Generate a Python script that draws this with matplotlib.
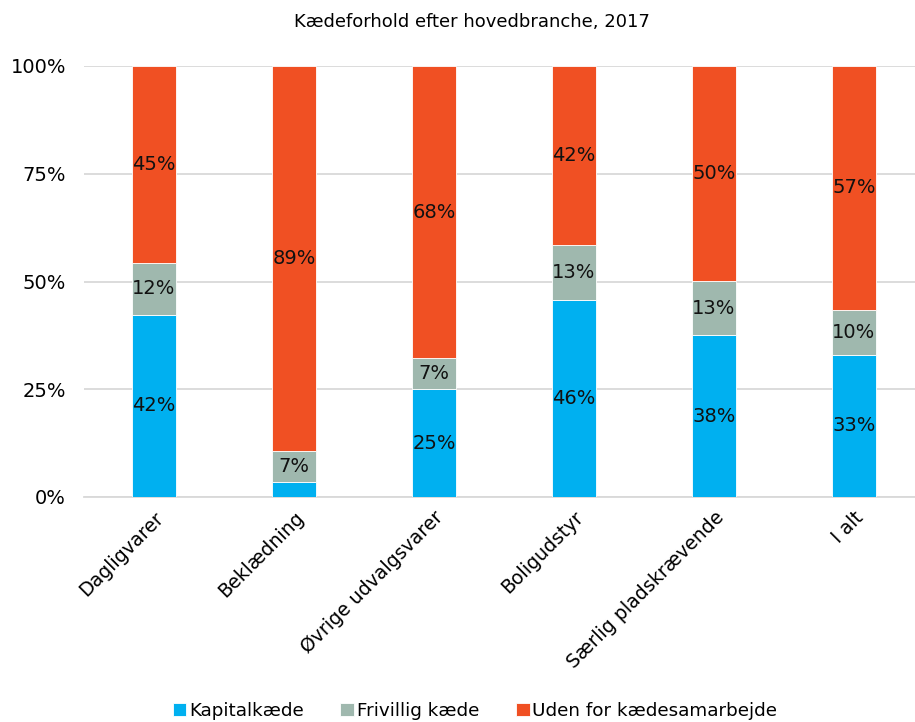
import numpy as np
import matplotlib
matplotlib.use("Agg")
import matplotlib.pyplot as plt

# data
categories = ["Dagligvarer", "Beklædning", "Øvrige udvalgsvarer", "Boligudstyr",
              "Særlig pladskrævende", "I alt"]
kapital = [42.3, 3.4, 25.0, 45.8, 37.5, 33.0]
frivillig = [12.1, 7.3, 7.2, 12.6, 12.6, 10.4]
uden = [45.6, 89.3, 67.8, 41.6, 49.9, 56.6]
kapital_lbl = ["42%", "", "25%", "46%", "38%", "33%"]
frivillig_lbl = ["12%", "7%", "7%", "13%", "13%", "10%"]
uden_lbl = ["45%", "89%", "68%", "42%", "50%", "57%"]
series_names = ["Kapitalkæde", "Frivillig kæde", "Uden for kædesamarbejde"]
colors = ["#00B0F0", "#9FB8AE", "#F05023"]

plt.rcParams['font.family'] = ['DejaVu Sans']

fig = plt.figure(figsize=(9.15, 7.22), dpi=100)
W, H = 915, 722
ax = fig.add_axes([84 / W, 1 - 497 / H, (W - 84) / W, (497 - 66) / H])

x = np.arange(len(categories))
bw = 0.31
bottom = np.zeros(len(categories))
for vals, lbls, col, name in zip([kapital, frivillig, uden],
                                 [kapital_lbl, frivillig_lbl, uden_lbl],
                                 colors, series_names):
    bars = ax.bar(x, vals, bw, bottom=bottom, color=col, label=name,
                  edgecolor="white", linewidth=0.6, zorder=3)
    ax.bar_label(bars, labels=lbls, label_type="center", fontsize=14,
                 color="#111111", zorder=4)
    bottom += np.array(vals)

ax.set_xlim(-0.5, -0.5 + (W - 84) / 140)
ax.set_ylim(0, 100)
ax.set_yticks([0, 25, 50, 75, 100])
ax.set_yticklabels(["0%", "25%", "50%", "75%", "100%"], fontsize=14)
ax.yaxis.grid(True, color="#D9D9D9", linewidth=1.3, zorder=0)
ax.set_axisbelow(True)
ax.tick_params(axis="y", length=0, pad=13)
ax.tick_params(axis="x", length=0, pad=8)
ax.set_xticks(x)
ax.set_xticklabels(categories, rotation=45, ha="right", rotation_mode="anchor",
                   fontsize=13.6)
for s in ["top", "right", "left"]:
    ax.spines[s].set_visible(False)
ax.spines["bottom"].set_color("#D9D9D9")
ax.spines["bottom"].set_linewidth(1.3)

fig.text(472 / W, 1 - 22 / H, "Kædeforhold efter hovedbranche, 2017",
         ha="center", va="center", fontsize=13)

fig.legend(loc="center", bbox_to_anchor=(475 / W, 1 - 711 / H), ncol=3,
           frameon=False, fontsize=13.2, handlelength=0.75, handleheight=0.75,
           handletextpad=0.15, columnspacing=2.0)

fig.savefig("out.png", dpi=100)
